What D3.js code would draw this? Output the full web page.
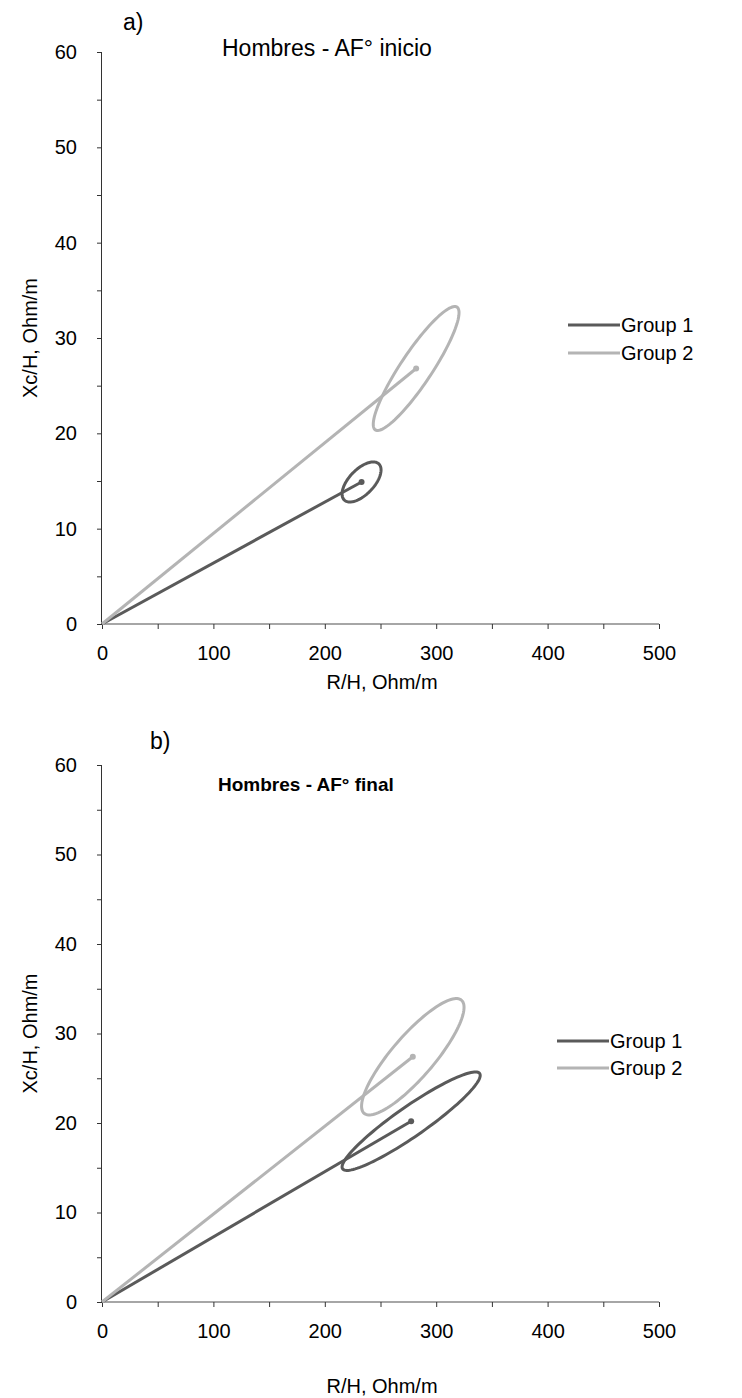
<!DOCTYPE html>
<html>
<head>
<meta charset="utf-8">
<script src="https://cdn.jsdelivr.net/npm/d3@7"></script>
<style>
  html, body { margin: 0; padding: 0; background: #fff; }
  svg { display: block; font-family: "Liberation Sans", Arial, sans-serif; }
</style>
</head>
<body>
<svg id="chart" width="742" height="1398"></svg>
<script>
// Group labels and colours
const groups = ["Group 1", "Group 2"];
const groupColors = ["#5a5a5a", "#b4b4b4"];

// Axis ticks
const xTicks = [0, 100, 200, 300, 400, 500];
const yTicks = [0, 10, 20, 30, 40, 50, 60];

// Panel a) — mean vectors (R/H, Xc/H) and confidence ellipses
const meanR_a = [233, 282];
const meanXc_a = [14.9, 26.8];
const halfR_a = [17.5, 38.5];    // half extent along R/H
const halfXc_a = [2.1, 6.5];     // half extent along Xc/H
const corr_a = [0.6, 0.9];       // R–Xc correlation of each ellipse

// Panel b) — mean vectors and confidence ellipses
const meanR_b = [277.5, 279];
const meanXc_b = [20.2, 27.4];
const halfR_b = [62, 46];
const halfXc_b = [5.5, 6.5];
const corr_b = [0.93, 0.85];

const svg = d3.select("#chart");
const FONT = "Liberation Sans, Arial, sans-serif";

function panel(cfg) {
  const x = d3.scaleLinear().domain([0, 500]).range([102, 659]);
  const y = d3.scaleLinear().domain([0, 60]).range([cfg.y0, cfg.y60]);
  const g = svg.append("g");

  // y axis: labelled every 10, ticks every 5
  g.append("g")
    .attr("transform", `translate(${x(0)},0)`)
    .call(d3.axisLeft(y).tickValues(d3.range(0, 61, 5)).tickSize(5).tickFormat(d => yTicks.includes(d) ? d : ""))
    .call(a => a.select(".domain").attr("stroke", "#333").attr("d", `M-0.5,${y(0)}V${y(60)}`))
    .call(a => a.selectAll(".tick line").attr("stroke", "#333"))
    .call(a => a.selectAll(".tick text").attr("font-size", 20).attr("fill", "#000").attr("x", -25).attr("font-family", FONT));

  // x axis: labelled every 100, ticks every 50
  g.append("g")
    .attr("transform", `translate(0,${y(0)})`)
    .call(d3.axisBottom(x).tickValues(d3.range(0, 501, 50)).tickSize(5).tickFormat(d => xTicks.includes(d) ? d : ""))
    .call(a => a.select(".domain").attr("stroke", "#888").attr("stroke-width", 1.5).attr("d", `M${x(0)},0H${x(500)}`))
    .call(a => a.selectAll(".tick line").attr("stroke", "#333"))
    .call(a => a.selectAll(".tick text").attr("font-size", 20).attr("fill", "#000").attr("y", 22).attr("font-family", FONT));

  // axis titles
  g.append("text").attr("x", 382).attr("y", cfg.xTitleY).attr("text-anchor", "middle")
    .attr("font-size", 20).text("R/H, Ohm/m");
  g.append("text").attr("transform", `translate(37,${(y(0) + y(60)) / 2}) rotate(-90)`)
    .attr("text-anchor", "middle").attr("font-size", 20).text("Xc/H, Ohm/m");

  // panel tag and title
  g.append("text").attr("x", cfg.tagX).attr("y", cfg.tagY).attr("font-size", 23).text(cfg.tag);
  g.append("text").attr("x", cfg.titleX).attr("y", cfg.titleY)
    .attr("font-size", cfg.titleSize).attr("font-weight", cfg.titleWeight).text(cfg.title);

  // ellipses, vectors and mean points
  groups.forEach((name, i) => {
    const cx = cfg.meanR[i], cy = cfg.meanXc[i];
    const d = Math.acos(cfg.corr[i]);
    const pts = d3.range(0, 361, 3).map(a => {
      const t = a * Math.PI / 180;
      return [cx + cfg.halfR[i] * Math.cos(t), cy + cfg.halfXc[i] * Math.cos(t - d)];
    });
    const line = d3.line().x(p => x(p[0])).y(p => y(p[1])).curve(d3.curveLinearClosed);
    g.append("path").attr("d", line(pts)).attr("fill", "none")
      .attr("stroke", groupColors[i]).attr("stroke-width", 3);
    g.append("line").attr("x1", x(0)).attr("y1", y(0)).attr("x2", x(cx)).attr("y2", y(cy))
      .attr("stroke", groupColors[i]).attr("stroke-width", 3);
    g.append("circle").attr("cx", x(cx)).attr("cy", y(cy)).attr("r", 3).attr("fill", groupColors[i]);
  });

  // legend
  groups.forEach((name, i) => {
    const ly = cfg.legY + i * cfg.legGap;
    g.append("line").attr("x1", cfg.legX).attr("x2", cfg.legX + 52).attr("y1", ly).attr("y2", ly)
      .attr("stroke", groupColors[i]).attr("stroke-width", 3);
    g.append("text").attr("x", cfg.legX + 53).attr("y", ly + 7).attr("font-size", 20).text(name);
  });
}

panel({
  y0: 624, y60: 52, xTitleY: 689, tag: "a)", tagX: 123, tagY: 30,
  title: "Hombres - AF° inicio", titleX: 222, titleY: 56, titleSize: 23, titleWeight: "normal",
  meanR: meanR_a, meanXc: meanXc_a, halfR: halfR_a, halfXc: halfXc_a, corr: corr_a,
  legX: 568, legY: 325, legGap: 28
});

panel({
  y0: 1302, y60: 765, xTitleY: 1393, tag: "b)", tagX: 150, tagY: 749,
  title: "Hombres - AF° final", titleX: 218, titleY: 791, titleSize: 19, titleWeight: "bold",
  meanR: meanR_b, meanXc: meanXc_b, halfR: halfR_b, halfXc: halfXc_b, corr: corr_b,
  legX: 557, legY: 1041, legGap: 27
});
</script>
</body>
</html>
